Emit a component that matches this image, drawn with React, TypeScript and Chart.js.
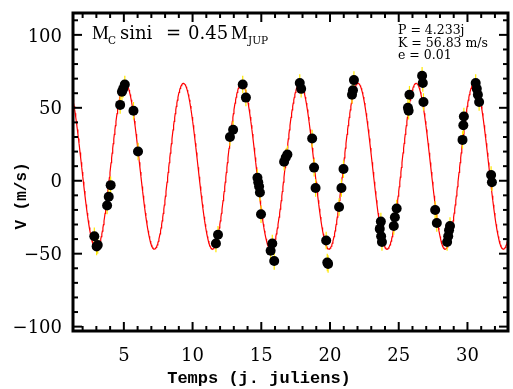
import { useEffect, useRef } from "react";
import { Chart, registerables } from "chart.js";
Chart.register(...registerables);

// Observation epochs (days) and radial velocities (m/s)
const times = [
  2.85, 3.02, 3.1, 3.78, 3.9, 4.04, 4.73, 4.86, 4.95, 5.07, 5.7, 6.03,
  11.7, 11.85, 12.72, 12.95, 13.65, 13.88,
  14.72, 14.78, 14.84, 14.9, 14.98, 15.68, 15.8, 15.94,
  16.66, 16.78, 16.9, 17.8, 17.9,
  18.7, 18.84, 18.95, 19.72, 19.8, 19.86, 20.66, 20.83, 20.98, 21.6, 21.67, 21.74,
  23.62, 23.7, 23.72, 23.78, 24.64, 24.72, 24.85, 25.67, 25.72, 25.78, 26.7, 26.75, 26.8,
  27.65, 27.77, 28.52, 28.6, 28.66, 28.73, 29.64, 29.7, 29.74, 30.6, 30.68, 30.76, 30.85, 31.72, 31.78,
];
const velocities = [
  -38, -45, -44, -17, -11, -3, 52, 61, 63, 66, 48, 20,
  -43, -37, 30, 35, 66, 57,
  2, -1, -4, -8, -23, -48, -43, -55,
  13, 16, 18, 67, 63,
  29, 9, -5, -41, -56, -57, -18, -5, 8, 59, 62, 69,
  -33, -28, -38, -42, -31, -25, -19, 50, 48, 59, 72, 67, 54,
  -20, -29, -42, -38, -34, -31, 28, 38, 44, 67, 63, 59, 54, 4, -1,
];
const errorBar = 6;

// Orbital fit parameters (shown on chart)
const PERIOD = 4.233;
const K_AMP = 56.83;
const V_SYS = 10;
const T_PEAK = 5.1;

const xTicks = [5, 10, 15, 20, 25, 30];
const yTicks = [-100, -50, 0, 50, 100];
const X_MIN = 1.3;
const X_MAX = 32.95;
const Y_MIN = -103;
const Y_MAX = 115;

const SERIF = '"DejaVu Serif", "Liberation Serif", serif';
const TIMES = '"Liberation Serif", serif';
const MONO = '"Liberation Mono", "DejaVu Sans Mono", monospace';

function modelCurve() {
  const pts: { x: number; y: number }[] = [];
  const n = 800;
  for (let i = 0; i <= n; i++) {
    const t = X_MIN + ((X_MAX - X_MIN) * i) / n;
    pts.push({ x: t, y: V_SYS + K_AMP * Math.cos((2 * Math.PI * (t - T_PEAK)) / PERIOD) });
  }
  return pts;
}

const errorPlugin = {
  id: "errbars",
  afterDatasetDraw(chart: any, args: any) {
    if (args.index !== 1) return;
    const { ctx, scales } = chart;
    const x = scales.x;
    const y = scales.y;
    ctx.save();
    ctx.strokeStyle = "#ffe800";
    ctx.lineWidth = 1.2;
    for (let i = 0; i < times.length; i++) {
      const px = x.getPixelForValue(times[i]);
      ctx.beginPath();
      ctx.moveTo(px, y.getPixelForValue(velocities[i] - errorBar));
      ctx.lineTo(px, y.getPixelForValue(velocities[i] + errorBar));
      ctx.stroke();
    }
    ctx.restore();
  },
};

const framePlugin = {
  id: "frame",
  afterDraw(chart: any) {
    const { ctx, chartArea: a, scales } = chart;
    const x = scales.x;
    const y = scales.y;
    ctx.save();
    ctx.strokeStyle = "#000";
    ctx.lineWidth = 3;
    ctx.strokeRect(a.left, a.top, a.right - a.left, a.bottom - a.top);
    ctx.lineWidth = 2;
    const seg = (x1: number, y1: number, x2: number, y2: number) => {
      ctx.beginPath();
      ctx.moveTo(x1, y1);
      ctx.lineTo(x2, y2);
      ctx.stroke();
    };
    for (let v = Math.ceil(X_MIN); v <= X_MAX; v++) {
      const px = x.getPixelForValue(v);
      const len = v % 5 === 0 ? 9 : 5;
      seg(px, a.bottom, px, a.bottom - len);
      seg(px, a.top, px, a.top + len);
    }
    for (let v = -100; v <= Y_MAX; v += 10) {
      const py = y.getPixelForValue(v);
      const len = v % 50 === 0 ? 9 : 5;
      seg(a.left, py, a.left + len, py);
      seg(a.right, py, a.right - len, py);
    }
    // tick labels
    ctx.fillStyle = "#000";
    ctx.font = `18px ${SERIF}`;
    ctx.textAlign = "right";
    ctx.textBaseline = "middle";
    for (const v of yTicks) {
      const lab = v < 0 ? "\u2212" + Math.abs(v) : String(v);
      ctx.fillText(lab, a.left - 11, y.getPixelForValue(v) + 2);
    }
    ctx.textAlign = "center";
    for (const v of xTicks) {
      ctx.fillText(String(v), x.getPixelForValue(v), a.bottom + 25);
    }
    // axis titles
    ctx.font = `bold 17px ${MONO}`;
    ctx.fillText("Temps (j. juliens)", 259, 379);
    ctx.save();
    ctx.translate(22, 196);
    ctx.rotate(-Math.PI / 2);
    ctx.font = `bold 16px ${MONO}`;
    ctx.fillText("V (m/s)", 0, 0);
    ctx.restore();
    // annotations
    ctx.textAlign = "left";
    ctx.textBaseline = "alphabetic";
    const sub = `10.5px ${SERIF}`;
    ctx.font = `19px ${TIMES}`;
    ctx.fillText("M", 92, 39);
    ctx.fillText("M", 231, 39);
    ctx.font = `18px ${SERIF}`;
    ctx.fillText("sini", 120, 39);
    ctx.fillText("=", 166, 39);
    ctx.fillText("0.45", 188, 39);
    ctx.font = sub;
    ctx.fillText("C", 108, 43.5);
    ctx.fillText("JUP", 248, 43.5);
    ctx.font = `12.5px ${SERIF}`;
    ctx.fillText("P = 4.233j", 398, 34);
    ctx.fillText("K = 56.83 m/s", 398, 47);
    ctx.fillText("e = 0.01", 398, 59);
    ctx.restore();
  },
};

export default function App() {
  const ref = useRef<HTMLCanvasElement>(null);
  useEffect(() => {
    document.body.style.margin = "0";
    const canvas = ref.current!;
    const chart = new Chart(canvas, {
      type: "scatter",
      data: {
        datasets: [
          {
            type: "scatter",
            data: times.map((t, i) => ({ x: t, y: velocities[i] })),
            pointRadius: 5,
            pointBackgroundColor: "#000",
            pointBorderColor: "#000",
            pointBorderWidth: 0,
            order: 0,
          } as any,
          {
            type: "line",
            data: modelCurve(),
            borderColor: "#ff0000",
            borderWidth: 1.2,
            pointRadius: 0,
            fill: false,
            tension: 0,
            order: 1,
          } as any,
        ],
      },
      options: {
        animation: false,
        responsive: false,
        devicePixelRatio: 1,
        layout: { padding: { left: 73, right: 1, top: 13, bottom: 58 } },
        plugins: { legend: { display: false }, tooltip: { enabled: false } },
        scales: {
          x: { type: "linear", min: X_MIN, max: X_MAX, display: false },
          y: { type: "linear", min: Y_MIN, max: Y_MAX, display: false },
        },
      },
      plugins: [errorPlugin, framePlugin],
    });
    return () => chart.destroy();
  }, []);
  return <canvas ref={ref} width={513} height={389} style={{ display: "block" }} />;
}
